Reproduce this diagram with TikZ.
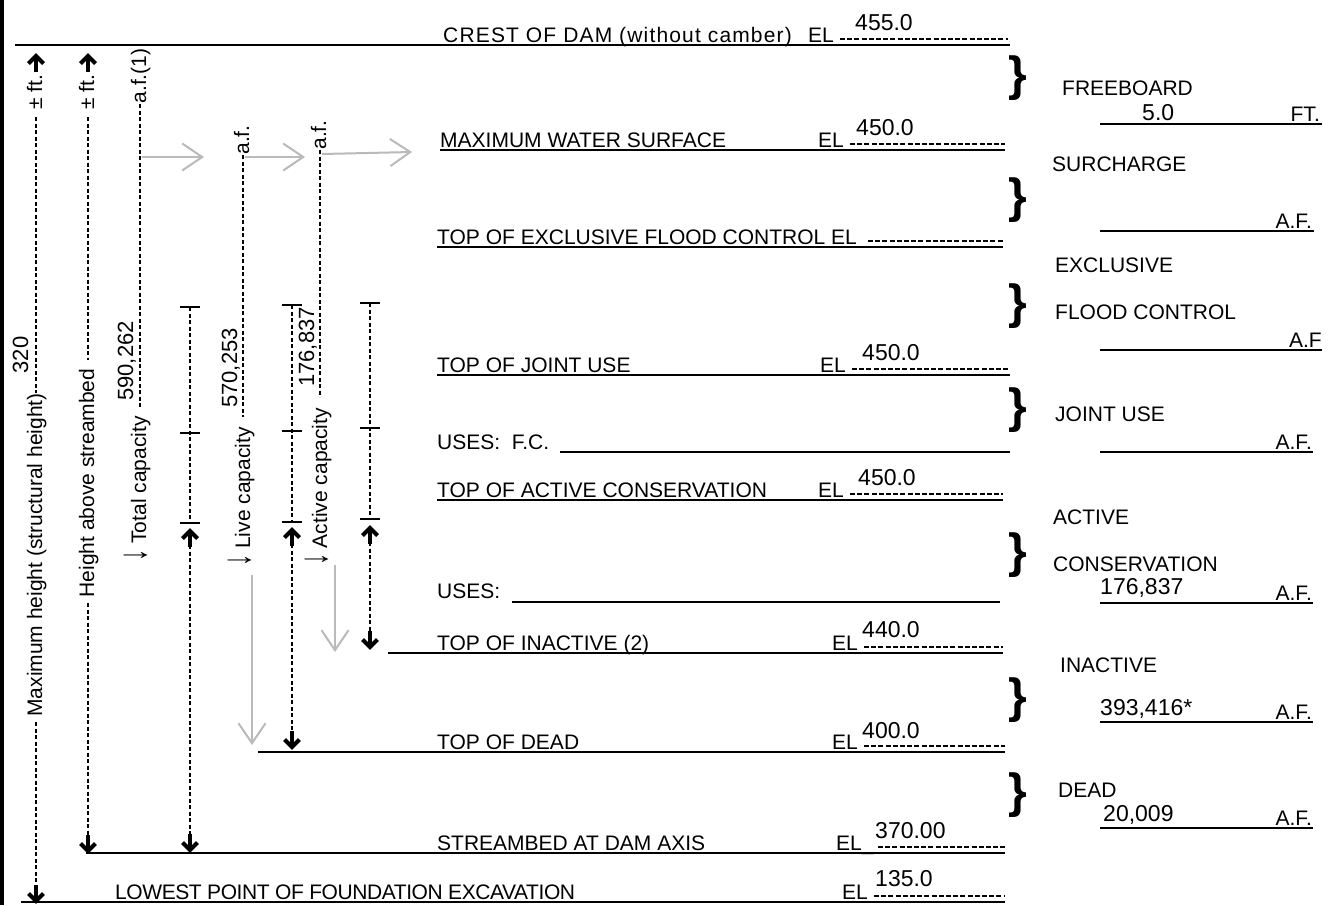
\documentclass[tikz,border=0pt]{standalone}
\usepackage{fontspec}
\usepackage{graphicx}
\setmainfont{Liberation Sans}
\usetikzlibrary{arrows.meta}
\newcommand{\dnarr}{\scalebox{1.15}[1.9]{↓}}
% bold arrowheads: x, tip y
\newcommand{\hupar}[2]{%
  \draw[line width=4.2pt] (#1,#2+4) -- (#1,#2+19);
  \draw[line width=4.2pt,line join=miter,line cap=butt] (#1-7.5,#2+10.5) -- (#1,#2+3) -- (#1+7.5,#2+10.5);}
\newcommand{\hdnar}[2]{%
  \draw[line width=4.2pt] (#1,#2-4) -- (#1,#2-19);
  \draw[line width=4.2pt,line join=miter,line cap=butt] (#1-7.5,#2-10.5) -- (#1,#2-3) -- (#1+7.5,#2-10.5);}
\begin{document}
\begin{tikzpicture}[x=1pt,y=-1pt,
  lvl/.style={line width=2.4pt},
  thn/.style={line width=1.3pt},
  hy/.style={line width=1.4pt,dash pattern=on 5pt off 2.2pt},
  vd/.style={line width=1.3pt,dash pattern=on 4pt off 2.5pt},
  lbl/.style={font=\fontsize{21}{24}\selectfont,inner sep=0pt,anchor=base west},
  lble/.style={font=\fontsize{21}{24}\selectfont,inner sep=0pt,anchor=base east},
  num/.style={font=\fontsize{23}{26}\selectfont,inner sep=0pt,anchor=base west},
  vl/.style={font=\fontsize{21}{24}\selectfont,inner sep=0pt,anchor=base,rotate=90},
  vn/.style={font=\fontsize{22}{26}\selectfont,inner sep=0pt,anchor=base,rotate=90},
  brc/.style={font=\fontsize{48}{50}\selectfont\bfseries,inner sep=0pt},
  garr/.style={draw=black!27,line width=2pt,-{Straight Barb[length=20pt,width=27pt]}},
  tck/.style={line width=1.5pt},
]
\useasboundingbox (0,0) rectangle (1335,905);
\fill[white] (0,0) rectangle (1335,905);
% left border
\draw[line width=3.5pt] (1.75,0) -- (1.75,905);

% ---------- levels ----------
% crest
\draw[lvl] (15,45) -- (1010,45);
\node[lbl] (crest) at (443,42) {\addfontfeature{LetterSpace=5.5}CREST OF DAM (without camber)};
\node[lbl] (el1) at (808,42) {EL};
\draw[hy] (840,39) -- (1008,39);
\node[num] (v1) at (855,30) {455.0};
% max water surface
\draw[lvl] (440,150) -- (1005,150);
\node[lbl] (mws) at (440,147) {MAXIMUM WATER SURFACE};
\node[lbl] (el2) at (818,147) {EL};
\draw[hy] (850,144) -- (1005,144);
\node[num] (v2) at (856,135) {450.0};
% top of exclusive flood control
\draw[lvl] (437,247) -- (1003,247);
\node[lbl] (tefc) at (437,244) {TOP OF EXCLUSIVE FLOOD CONTROL EL};
\draw[hy] (868,241) -- (1003,241);
% top of joint use
\draw[lvl] (437,375) -- (1010,375);
\node[lbl] (tju) at (437,372) {TOP OF JOINT USE};
\node[lbl] (el4) at (820,372) {EL};
\draw[hy] (852,369) -- (1010,369);
\node[num] (v4) at (862,360) {450.0};
% uses F.C.
\node[lbl] (usfc) at (437,449) {USES:\ \ F.C.};
\draw[thn] (560,452) -- (1010,452);
% top of active conservation
\draw[lvl] (437,500) -- (1003,500);
\node[lbl] (tac) at (437,497) {TOP OF ACTIVE CONSERVATION};
\node[lbl] (el6) at (818,497) {EL};
\draw[hy] (850,494) -- (1003,494);
\node[num] (v6) at (858,485) {450.0};
% uses
\node[lbl] (us) at (437,598) {USES:};
\draw[thn] (512,602) -- (1000,602);
% top of inactive
\draw[thn] (388,653) -- (437,653);
\draw[lvl] (437,653) -- (1003,653);
\node[lbl] (tin) at (437,650) {TOP OF INACTIVE (2)};
\node[lbl] (el8) at (832,650) {EL};
\draw[hy] (864,647) -- (1003,647);
\node[num] (v8) at (862,637) {440.0};
% top of dead
\draw[lvl] (258,752) -- (1005,752);
\node[lbl] (tdd) at (437,749) {TOP OF DEAD};
\node[lbl] (el9) at (832,749) {EL};
\draw[hy] (864,746) -- (1005,746);
\node[num] (v9) at (862,738) {400.0};
% streambed
\draw[lvl] (86,853) -- (1005,853);
\node[lbl] (sb) at (437,850) {STREAMBED AT DAM AXIS};
\node[lbl] (el10) at (836,850) {EL\_};
\draw[hy] (878,847) -- (1005,847);
\node[num] (v10) at (875,838) {370.00};
% lowest point
\draw[lvl] (21,902) -- (1005,902);
\node[lbl] (lp) at (115,899) {\addfontfeature{LetterSpace=-2}LOWEST POINT OF FOUNDATION EXCAVATION};
\node[lbl] (el11) at (842,899) {EL};
\draw[hy] (874,896) -- (1005,896);
\node[num] (v11) at (875,886) {135.0};

% ---------- braces ----------
\foreach \yy/\nm in {78/b1,200/b2,306/b3,410/b4,555/b5,700/b6,795/b7}
  \node[brc] (\nm) at (1018,\yy) {\}};

% ---------- right labels ----------
\node[lbl] (fb) at (1062,95) {FREEBOARD};
\node[num] (fbv) at (1142,120) {5.0};
\draw[lvl] (1100,124) -- (1322,124);
\node[lble] (ft) at (1320,121) {FT.};
\node[lbl] (sc) at (1052,171) {SURCHARGE};
\draw[lvl] (1100,231) -- (1314,231);
\node[lble] (af1) at (1312,228) {A.F.};
\node[lbl] (ex) at (1055,272) {EXCLUSIVE};
\node[lbl] (fc) at (1055,319) {FLOOD CONTROL};
\draw[lvl] (1100,350) -- (1322,350);
\node[lble] (af2) at (1322,347) {A.F};
\node[lbl] (ju) at (1055,421) {JOINT USE};
\draw[lvl] (1100,452) -- (1313,452);
\node[lble] (af3) at (1312,449) {A.F.};
\node[lbl] (ac) at (1053,524) {ACTIVE};
\node[lbl] (cn) at (1053,571) {CONSERVATION};
\node[num] (acv) at (1100,594) {176,837};
\draw[lvl] (1100,603) -- (1313,603);
\node[lble] (af4) at (1312,600) {A.F.};
\node[lbl] (ina) at (1060,672) {INACTIVE};
\node[num] (inv) at (1100,715) {393,416*};
\draw[lvl] (1100,722) -- (1313,722);
\node[lble] (af5) at (1312,719) {A.F.};
\node[lbl] (dd) at (1058,797) {DEAD};
\node[num] (ddv) at (1103,821) {20,009};
\draw[lvl] (1100,828) -- (1313,828);
\node[lble] (af6) at (1312,825) {A.F.};

% ---------- column A: maximum height ----------
\hupar{36}{53}
\node[vl] (pmA) at (42,92) {± ft.};
\draw[vd] (36,117) -- (36,393);
\node[vn] (hA) at (28,355) {320};
\node[vl] (mA) at (42,555) {Maximum height (structural height)};
\draw[vd] (36,722) -- (36,886);
\hdnar{36}{904}

% ---------- column B: height above streambed ----------
\hupar{88}{53}
\node[vl] (pmB) at (94,92) {± ft.};
\draw[vd] (88,117) -- (88,360);
\node[vl] (hB) at (94,483) {Height above streambed};
\draw[vd] (88,603) -- (88,836);
\hdnar{88}{854}

% ---------- column C: total capacity ----------
\node[vl] (afC) at (146,76) {a.f.(1)};
\draw[vd] (140,104) -- (140,407);
\node[vn] (vC) at (133,361) {590,262};
\node[vl] (tC) at (146,489) {\dnarr\ Total capacity};
\draw[garr] (142,157) -- (204,157);

% ---------- column D: live capacity ----------
\node[vl] (afD) at (249,140) {a.f.};
\draw[vd] (243,155) -- (243,417);
\node[vn] (vD) at (237,368) {570,253};
\node[vl] (tD) at (250,497) {\dnarr\ Live capacity};
\draw[garr] (245,157) -- (305,157);
\draw[garr] (252,575) -- (252,745);

% ---------- column E: active capacity ----------
\node[vl] (afE) at (326,135) {a.f.};
\draw[vd] (320,150) -- (320,397);
\node[vn] (vE) at (314,347) {176,837};
\node[vl] (tE) at (327,487) {\dnarr\ Active capacity};
\draw[garr] (322,154) -- (412,152);
\draw[garr] (335,565) -- (335,652);

% ---------- tick columns ----------
\foreach \xx/\ta/\tb/\tc/\up/\dn in {190/307/433/523/528/853, 292/305/431/522/527/750, 370/303/428/519/525/650}{
  \draw[tck] (\xx-10,\ta) -- (\xx+10,\ta);
  \draw[tck] (\xx-10,\tb) -- (\xx+10,\tb);
  \draw[tck] (\xx-10,\tc) -- (\xx+10,\tc);
  \draw[vd] (\xx,\ta) -- (\xx,\tc);
  \hupar{\xx}{\up}
  \draw[vd] (\xx,\up+17) -- (\xx,\dn-15);
  \hdnar{\xx}{\dn}
}
\end{tikzpicture}
\end{document}
